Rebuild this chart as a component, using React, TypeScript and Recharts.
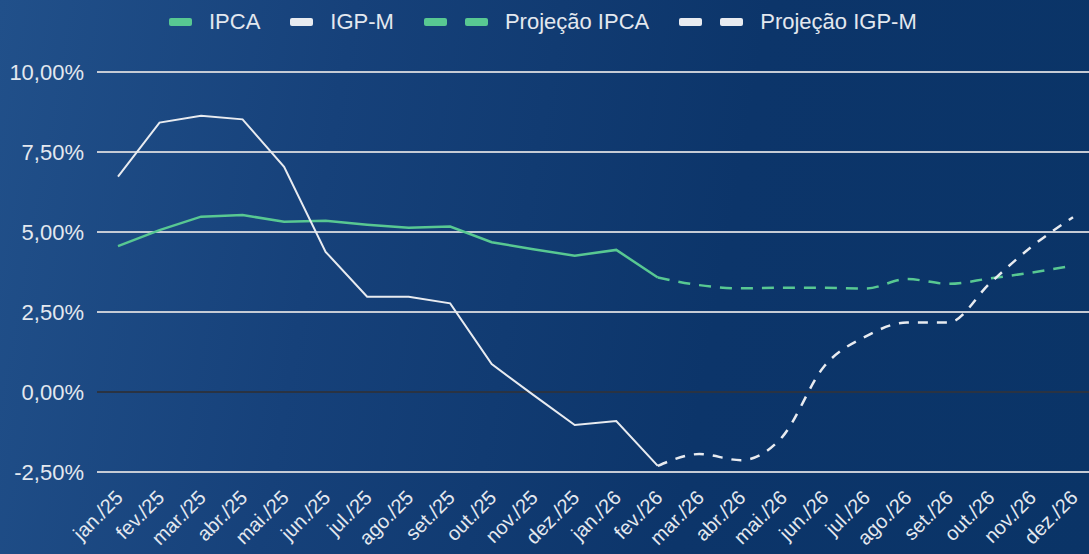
import React from 'react';
import { LineChart, Line, XAxis, YAxis, CartesianGrid, ReferenceLine } from 'recharts';

const months = ['jan./25','fev./25','mar./25','abr./25','mai./25','jun./25','jul./25','ago./25','set./25','out./25','nov./25','dez./25','jan./26','fev./26','mar./26','abr./26','mai./26','jun./26','jul./26','ago./26','set./26','out./26','nov./26','dez./26'];
const ipca = [4.56,5.06,5.48,5.53,5.32,5.35,5.23,5.13,5.17,4.68,4.46,4.26,4.44,3.58,null,null,null,null,null,null,null,null,null,null];
const igpm = [6.73,8.42,8.63,8.52,7.04,4.38,2.98,2.98,2.77,0.87,-0.09,-1.03,-0.91,-2.31,null,null,null,null,null,null,null,null,null,null];
const projIpca = [null,null,null,null,null,null,null,null,null,null,null,null,null,3.58,3.34,3.24,3.26,3.26,3.23,3.53,3.38,3.55,3.73,3.95];
const projIgpm = [null,null,null,null,null,null,null,null,null,null,null,null,null,-2.31,-1.94,-2.13,-1.40,0.79,1.73,2.17,2.17,3.40,4.54,5.46];
const yTicks = [-2.5, 0, 2.5, 5, 7.5, 10];

const data = months.map((m, i) => ({ m, ipca: ipca[i], igpm: igpm[i], projIpca: projIpca[i], projIgpm: projIgpm[i] }));

const GREEN = '#58c892';
const WHITE = '#e8ebf0';
const TEXT = '#e3e8ef';
const FONT = '"Liberation Sans", Arial, sans-serif';

const fmt = (v: number) => v.toFixed(2).replace('.', ',') + '%';

const XTick = (props: any) => {
  const { x, y, payload } = props;
  return (
    <g transform={`translate(${x + 6},${y + 19})`}>
      <text textAnchor="end" transform="rotate(-45)" fill={TEXT} fontSize={20} fontFamily={FONT}>{payload.value}</text>
    </g>
  );
};

const Icon = ({ color }: { color: string }) => (
  <span style={{ width: 23, height: 8, background: color, borderRadius: 2, display: 'inline-block' }} />
);

export default function App() {
  const items = [
    { label: 'IPCA', color: GREEN, dashed: false },
    { label: 'IGP-M', color: WHITE, dashed: false },
    { label: 'Projeção IPCA', color: GREEN, dashed: true },
    { label: 'Projeção IGP-M', color: WHITE, dashed: true },
  ];
  return (
    <div style={{ position: 'fixed', left: 0, top: 0, width: 1089, height: 554, overflow: 'hidden',
      background: 'linear-gradient(100deg, #21508a 0%, #16417a 30%, #0c356a 65%, #0a3467 100%)' }}>
      <div style={{ position: 'absolute', top: 9, left: 169, height: 26, display: 'flex', alignItems: 'center', fontFamily: FONT, fontSize: 22, color: TEXT, whiteSpace: 'nowrap' }}>
        {items.map((it, i) => (
          <span key={i} style={{ display: 'inline-flex', alignItems: 'center', marginRight: 30 }}>
            <span style={{ display: 'inline-flex', gap: 18, marginRight: 17 }}>
              <Icon color={it.color} />
              {it.dashed && <Icon color={it.color} />}
            </span>
            {it.label}
          </span>
        ))}
      </div>
      <LineChart width={1089} height={554} data={data} margin={{ top: 72, right: 0, bottom: 0, left: 0 }}>
        <CartesianGrid vertical={false} stroke="#c5cbd5" strokeWidth={2} />
        <ReferenceLine y={0} stroke="#2a3342" strokeWidth={2} />
        <XAxis dataKey="m" interval={0} axisLine={false} tickLine={false} height={82}
          padding={{ left: 21, right: 16 }} tick={<XTick />} />
        <YAxis domain={[-2.5, 10]} ticks={yTicks} width={97} axisLine={false} tickLine={false}
          tickSize={0} tickMargin={13} tickFormatter={fmt}
          tick={{ fill: TEXT, fontSize: 22, fontFamily: FONT }} />
        <Line dataKey="ipca" type="linear" stroke={GREEN} strokeWidth={2.5} dot={false} isAnimationActive={false} connectNulls={false} />
        <Line dataKey="igpm" type="linear" stroke={WHITE} strokeWidth={2} dot={false} isAnimationActive={false} connectNulls={false} />
        <Line dataKey="projIpca" type="monotone" stroke={GREEN} strokeWidth={2.5} strokeDasharray="12 9" dot={false} isAnimationActive={false} />
        <Line dataKey="projIgpm" type="monotone" stroke={WHITE} strokeWidth={2.5} strokeDasharray="10 9" dot={false} isAnimationActive={false} />
      </LineChart>
    </div>
  );
}
